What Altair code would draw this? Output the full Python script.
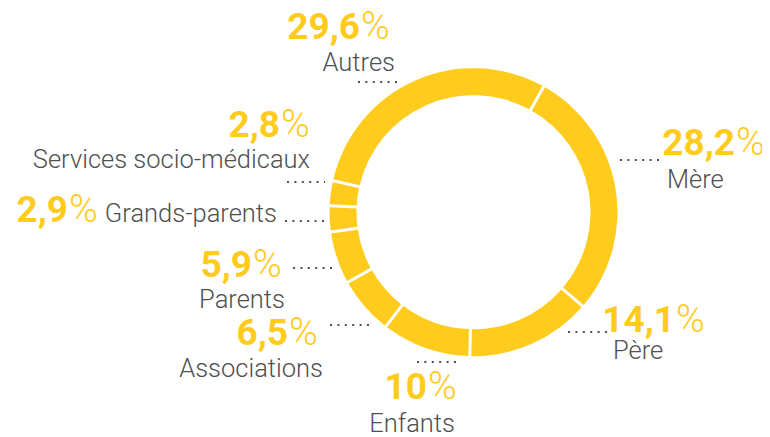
import math
import altair as alt
import pandas as pd

# ---- data ----
categories = ["Mère", "Père", "Enfants", "Associations", "Parents",
              "Grands-parents", "Services socio-médicaux", "Autres"]
values = [28.2, 14.1, 10.0, 6.5, 5.9, 2.9, 2.8, 29.6]

# ---- style / layout ----
YELLOW = "#FFCC1D"
GRAY = "#505050"
FONT = "Roboto"
W, H = 754, 427
OX, OY = 8, 8                       # page -> chart offset
CX, CY = 473.5 - OX, 212.2 - OY     # donut centre
R_OUT, R_IN = 144, 117
START = math.radians(29.2)

# label anchors in page pixels:
# split x (number|%), number baseline, name x, name baseline, name align, dots x1, x2, y
layout = {
    "Autres": (360, 39, 395, 71, "right", 358, 397, 82),
    "Services socio-médicaux": (280, 137, 310, 168, "right", 287, 325, 182),
    "Grands-parents": (68, 222, 277, 222, "right", 285, 325, 221),
    "Mère": (735, 155, 667, 188, "left", 620, 661, 160),
    "Père": (675, 332, 613, 359, "left", 568, 608, 332),
    "Parents": (252, 277, 285, 308, "right", 293, 333, 268),
    "Associations": (288, 345, 323, 377, "right", 330, 370, 325),
    "Enfants": (427, 399, 455, 432, "right", 417, 457, 362),
}


def fmt(v):
    s = f"{v:.1f}"
    if s.endswith(".0"):
        s = s[:-2]
    return s.replace(".", ",")


df = pd.DataFrame({"cat": categories, "value": values, "idx": range(len(categories))})

rows = []
for c, v in zip(categories, values):
    sx, ny, nx, nmy, al, d1, d2, dy = layout[c]
    rows.append({
        "cat": c, "num": fmt(v), "pct": "%",
        "sx": sx - OX, "ny": ny - OY, "nx": nx - OX, "nmy": nmy - OY, "al": al,
        "d1": d1 - OX, "d2": d2 - OX, "dy": dy - OY,
    })
lab = pd.DataFrame(rows)

donut = alt.Chart(df).mark_arc(
    outerRadius=R_OUT, innerRadius=R_IN, padAngle=0.016, color=YELLOW
).encode(
    theta=alt.Theta("value:Q", stack=True,
                    scale=alt.Scale(domain=[0, 100], range=[START, START + 2 * math.pi])),
    order=alt.Order("idx:Q"),
    x=alt.value(CX),
    y=alt.value(CY),
)

base = alt.Chart(lab)
X = lambda f: alt.X(f"{f}:Q", scale=None, axis=None)
Y = lambda f: alt.Y(f"{f}:Q", scale=None, axis=None)

num = base.mark_text(align="right", baseline="alphabetic", font=FONT, fontSize=37,
                     fontWeight="bold", color=YELLOW).encode(x=X("sx"), y=Y("ny"), text="num:N")
pct = base.mark_text(align="left", baseline="alphabetic", font=FONT, fontSize=39,
                     fontWeight=300, color=YELLOW, dx=1).encode(x=X("sx"), y=Y("ny"), text="pct:N")
name_r = base.transform_filter(alt.datum.al == "right").mark_text(
    align="right", baseline="alphabetic", font=FONT, fontSize=25.5, fontWeight=300, color=GRAY
).encode(x=X("nx"), y=Y("nmy"), text="cat:N")
name_l = base.transform_filter(alt.datum.al == "left").mark_text(
    align="left", baseline="alphabetic", font=FONT, fontSize=25.5, fontWeight=300, color=GRAY
).encode(x=X("nx"), y=Y("nmy"), text="cat:N")
dots = base.mark_rule(color=GRAY, strokeWidth=2, strokeDash=[2, 5.4]).encode(
    x=X("d1"), x2="d2:Q", y=Y("dy"))

chart = alt.layer(donut, dots, num, pct, name_r, name_l).properties(
    width=W, height=H, padding=0,
    autosize=alt.AutoSizeParams(type="fit", contains="padding"),
).configure_view(stroke=None)

chart.save("out.html", embed_options={"renderer": "svg", "actions": False})
